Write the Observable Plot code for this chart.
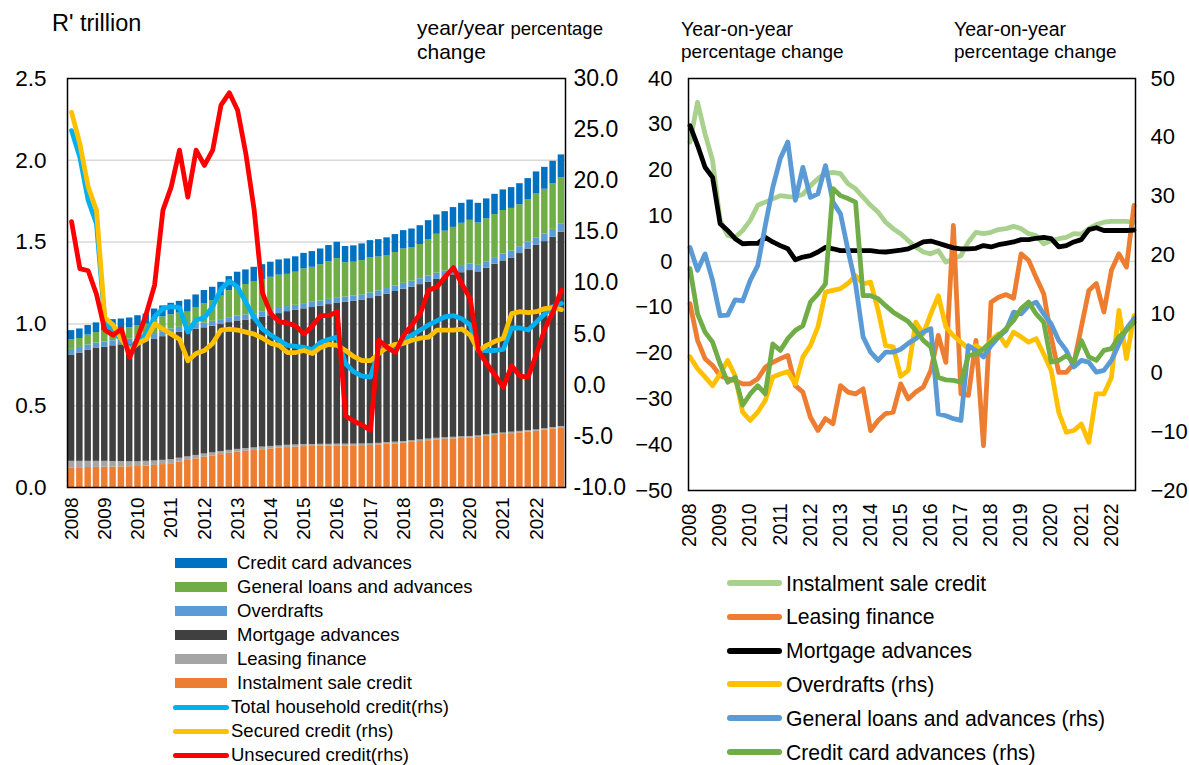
<!DOCTYPE html>
<html><head><meta charset="utf-8">
<script src="https://cdn.jsdelivr.net/npm/d3@7"></script>
<script src="https://cdn.jsdelivr.net/npm/@observablehq/plot@0.6"></script>
<style>
body{margin:0;background:#fff;font-family:"Liberation Sans",Arial,Helvetica,sans-serif;}
#root{position:relative;width:1189px;height:765px;overflow:hidden;background:#fff;}
.t{position:absolute;white-space:nowrap;color:#000;}
.sw{position:absolute;}
</style></head><body><div id="root"></div>
<script>
const FONT = '"Liberation Sans", Arial, Helvetica, sans-serif';
const years = ["2008","2009","2010","2011","2012","2013","2014","2015","2016","2017","2018","2019","2020","2021","2022"];
const quarters = years.flatMap(y => ["Q1","Q2","Q3","Q4"].map(q => y + q));
const yearTicks = quarters.filter(q => q.endsWith("Q1"));

// ---- Left panel: stacked bars, R' trillion ----
const instalmentSale = [0.120,0.121,0.122,0.123,0.124,0.125,0.126,0.127,0.128,0.131,0.135,0.140,0.145,0.155,0.165,0.175,0.185,0.193,0.201,0.209,0.216,0.221,0.226,0.231,0.236,0.240,0.244,0.247,0.250,0.251,0.252,0.253,0.254,0.254,0.255,0.256,0.257,0.260,0.264,0.267,0.271,0.276,0.281,0.286,0.291,0.294,0.297,0.300,0.303,0.306,0.313,0.319,0.324,0.329,0.334,0.339,0.344,0.351,0.358,0.365];
const leasingFinance = [0.040,0.039,0.038,0.037,0.036,0.034,0.033,0.031,0.030,0.029,0.027,0.026,0.025,0.024,0.022,0.021,0.020,0.019,0.019,0.018,0.017,0.017,0.016,0.016,0.015,0.014,0.014,0.013,0.013,0.012,0.012,0.011,0.011,0.011,0.010,0.010,0.010,0.010,0.010,0.010,0.010,0.010,0.010,0.010,0.010,0.010,0.010,0.010,0.009,0.009,0.009,0.009,0.009,0.009,0.009,0.009,0.008,0.008,0.008,0.008];
const mortgageAdvances = [0.650,0.662,0.678,0.690,0.697,0.707,0.713,0.719,0.724,0.732,0.743,0.756,0.769,0.770,0.772,0.772,0.771,0.774,0.776,0.781,0.785,0.786,0.788,0.793,0.799,0.809,0.817,0.823,0.829,0.837,0.844,0.854,0.863,0.867,0.873,0.880,0.888,0.898,0.908,0.921,0.931,0.939,0.949,0.960,0.971,0.981,0.993,1.003,1.014,1.003,1.018,1.037,1.052,1.065,1.087,1.110,1.128,1.144,1.164,1.187];
const overdrafts = [0.034,0.034,0.033,0.033,0.032,0.031,0.031,0.030,0.030,0.030,0.030,0.030,0.030,0.030,0.030,0.030,0.030,0.030,0.030,0.030,0.031,0.031,0.031,0.031,0.031,0.031,0.031,0.031,0.032,0.032,0.032,0.032,0.032,0.032,0.032,0.032,0.034,0.034,0.034,0.034,0.036,0.036,0.036,0.036,0.038,0.038,0.038,0.038,0.040,0.040,0.040,0.040,0.042,0.042,0.042,0.042,0.044,0.046,0.048,0.049];
const generalLoans = [0.058,0.055,0.061,0.064,0.068,0.070,0.067,0.069,0.078,0.076,0.091,0.091,0.087,0.087,0.083,0.102,0.118,0.126,0.144,0.165,0.179,0.186,0.195,0.200,0.204,0.204,0.197,0.202,0.212,0.214,0.221,0.231,0.239,0.210,0.207,0.209,0.215,0.207,0.202,0.204,0.210,0.206,0.209,0.223,0.238,0.244,0.252,0.264,0.267,0.259,0.262,0.263,0.266,0.261,0.256,0.258,0.273,0.274,0.279,0.284];
const creditCard = [0.057,0.058,0.058,0.059,0.059,0.059,0.060,0.060,0.060,0.062,0.065,0.067,0.070,0.072,0.075,0.077,0.080,0.082,0.084,0.086,0.088,0.089,0.090,0.091,0.092,0.093,0.094,0.094,0.095,0.096,0.097,0.098,0.100,0.099,0.100,0.102,0.105,0.106,0.108,0.110,0.112,0.113,0.115,0.116,0.118,0.119,0.121,0.122,0.124,0.120,0.122,0.124,0.126,0.127,0.129,0.130,0.132,0.134,0.137,0.140];
// rhs, year/year %
const totalHousehold = [24.9,22.3,18.1,15.8,6.3,5.0,4.6,3.6,4.4,5.0,6.7,7.5,7.7,7.6,5.2,6.4,6.6,7.7,9.4,10.2,9.6,8.1,6.6,5.5,4.9,4.4,3.9,3.8,3.7,3.5,4.2,4.5,4.7,2.1,1.3,0.9,0.8,3.4,3.7,3.4,4.4,4.9,5.4,5.9,6.3,6.7,6.8,6.5,5.9,3.4,3.4,3.4,3.5,5.6,5.6,5.4,6.2,7.0,7.7,8.0];
const securedCredit = [26.7,23.6,19.4,17.1,6.6,5.9,4.5,3.4,4.1,4.5,6.0,5.5,5.0,4.5,2.4,3.1,3.4,4.1,5.4,5.5,5.4,5.2,5.0,4.6,4.1,3.9,3.2,3.2,3.4,3.1,3.7,4.0,3.9,3.4,2.8,2.4,2.4,3.1,3.7,4.0,4.1,4.4,4.6,4.7,5.4,5.4,5.4,5.5,4.9,3.4,3.9,4.3,4.6,7.0,7.2,7.1,7.2,7.5,7.6,7.4];
const unsecuredCredit = [16.0,11.4,11.2,8.9,5.4,4.9,5.5,2.7,4.7,7.0,9.8,17.1,19.4,23.0,18.4,23.0,21.5,23.0,27.4,28.6,26.9,22.6,17.1,9.0,7.0,6.2,6.1,5.8,5.0,5.8,6.8,6.8,7.2,-3.0,-3.5,-3.9,-4.4,4.4,3.7,3.2,4.9,5.9,7.0,9.3,9.6,10.6,11.5,9.9,8.5,3.4,2.1,1.0,-0.2,1.9,0.9,0.8,3.1,5.5,7.2,9.3];

// ---- Right panel: year-on-year % ----
const instalmentGrowth = [26.1,34.8,27.9,22.1,9.0,5.7,5.3,6.8,9.0,12.3,13.0,13.7,14.4,14.2,14.1,14.7,16.6,18.1,19.3,19.5,19.2,17.0,15.9,14.1,12.3,10.8,8.6,7.2,6.1,4.6,3.2,2.1,1.7,2.4,-0.1,0.6,1.3,4.3,6.4,6.1,6.4,7.0,7.2,7.7,7.2,6.1,5.7,3.9,4.6,5.0,5.3,6.1,6.0,7.2,8.1,8.6,8.8,8.8,8.8,8.6];
const leasingGrowth = [-9.2,-17.2,-21.2,-22.7,-24.9,-25.6,-26.0,-26.7,-26.7,-25.6,-23.1,-22.0,-21.2,-20.5,-27.1,-28.5,-34.0,-36.9,-34.3,-35.4,-27.1,-28.5,-28.9,-27.8,-36.9,-34.7,-33.2,-32.9,-26.7,-30.0,-28.5,-27.4,-23.8,-16.1,-22.0,7.9,-28.9,-29.2,-17.2,-40.2,-8.9,-7.8,-7.2,-8.0,1.7,0.3,-3.5,-7.0,-16.5,-24.2,-24.2,-22.3,-14.3,-6.3,-4.8,-11.0,-1.9,1.7,-1.2,12.3];
const mortgageGrowth = [29.7,25.4,20.6,18.4,8.3,6.8,5.0,3.9,4.0,4.0,5.3,4.3,3.5,2.8,0.4,1.0,1.3,2.1,3.1,2.8,2.4,2.4,2.4,2.4,2.4,2.2,2.1,2.3,2.5,2.8,3.5,4.3,4.5,4.0,3.5,3.0,2.8,2.8,2.9,3.5,3.2,3.7,4.0,4.3,4.8,4.8,5.1,5.3,5.0,3.2,3.5,4.3,4.8,7.0,7.4,6.8,6.8,6.8,6.8,6.9];
const overdraftGrowth = [2.7,0.7,-0.7,-2.2,-0.2,2.1,-0.5,-6.7,-8.1,-6.7,-4.7,-0.7,-0.2,0.2,-1.9,2.7,4.6,7.8,13.7,14.0,14.3,15.2,16.5,15.1,15.4,10.6,4.6,4.4,-0.6,0.4,8.6,6.6,10.0,13.1,7.8,6.3,5.2,4.1,4.6,3.8,5.5,6.6,4.6,6.9,6.1,5.2,5.8,3.2,0.4,-6.7,-10.1,-9.8,-8.7,-11.8,-3.6,-3.6,-0.8,10.6,2.4,9.7];
const generalGrowth = [21.3,17.4,20.2,15.7,9.7,9.8,12.4,12.2,15.7,18.2,25.0,31.5,36.4,39.2,29.3,34.9,29.8,30.4,35.2,29.0,27.0,20.8,15.1,6.1,3.5,2.1,3.5,3.5,4.0,5.0,5.8,6.9,7.5,-7.0,-7.3,-7.8,-8.1,4.6,3.8,2.7,4.6,6.1,7.2,10.3,10.0,11.4,12.0,10.0,8.3,5.5,3.8,1.0,2.1,1.8,0.1,0.4,2.1,4.9,7.5,9.2];
const cardGrowth = [17.7,10.0,6.9,5.2,1.5,-1.6,-0.8,-5.5,-3.6,-2.2,-3.6,4.9,3.8,5.8,7.2,8.0,12.0,13.4,15.1,31.3,30.1,29.6,29.0,13.1,13.1,12.6,11.4,10.3,9.5,8.7,7.2,5.5,4.4,-0.8,-1.2,-1.3,-1.6,2.9,3.2,4.1,5.2,6.3,7.5,8.9,10.9,12.0,10.0,8.6,1.8,2.1,2.9,1.8,5.5,2.7,2.1,3.8,4.1,6.1,7.2,8.6];

const leftTicks = [0, 0.5, 1.0, 1.5, 2.0, 2.5];
const leftRhsTicks = [-10, -5, 0, 5, 10, 15, 20, 25, 30];
const rightTicks = [-50, -40, -30, -20, -10, 0, 10, 20, 30, 40];
const rightRhsTicks = [-20, -10, 0, 10, 20, 30, 40, 50];

const barSeries = ["Instalment sale credit","Leasing finance","Mortgage advances","Overdrafts","General loans and advances","Credit card advances"];
const barColors = ["#ED7D31","#A5A5A5","#404040","#5B9BD5","#70AD47","#0070C0"];
const barValues = [instalmentSale, leasingFinance, mortgageAdvances, overdrafts, generalLoans, creditCard];
const barRows = barSeries.flatMap((s, k) => quarters.map((q, i) => ({q, s, v: barValues[k][i]})));
const rows = arr => quarters.map((q, i) => ({q, v: arr[i]}));

const root = document.getElementById("root");
function place(el, left, top) {
  el.style.position = "absolute"; el.style.left = left + "px"; el.style.top = top + "px";
  root.appendChild(el);
}
const baseStyle = {fontFamily: FONT, fontSize: "20px", background: "transparent", color: "#000", overflow: "visible"};

// Left panel geometry
const L = {width: 640, height: 565, marginLeft: 67, marginRight: 75, marginTop: 78, marginBottom: 78};
const xBand = {type: "band", domain: quarters, paddingInner: 0.22, paddingOuter: 0.1, round: false, label: null};

const leftBase = Plot.plot({
  ...L, style: baseStyle,
  x: xBand,
  y: {domain: [0, 2.5], label: null},
  color: {domain: barSeries, range: barColors},
  marks: [
    Plot.gridY([0.5, 1.0, 1.5, 2.0], {stroke: "#D9D9D9", strokeOpacity: 1, strokeWidth: 1.5}),
    Plot.barY(barRows, Plot.stackY({x: "q", y: "v", z: "s", fill: "s", order: barSeries})),
    Plot.axisY(leftTicks, {tickSize: 0, tickPadding: 21, tickFormat: d => d.toFixed(1), fontSize: 22.5, label: null}),
    Plot.axisX(yearTicks, {tickSize: 0, tickPadding: 10, tickRotate: -90, tickFormat: q => q.slice(0, 4), fontSize: 19, label: null})
  ]
});
place(leftBase, 0, 0);

const leftOver = Plot.plot({
  ...L, style: baseStyle,
  x: {...xBand, axis: null},
  y: {domain: [-10, 30], label: null},
  marks: [
    Plot.line(rows(totalHousehold), {x: "q", y: "v", stroke: "#00B0F0", strokeWidth: 4.8, strokeLinejoin: "round"}),
    Plot.line(rows(securedCredit), {x: "q", y: "v", stroke: "#FFC000", strokeWidth: 4.8, strokeLinejoin: "round"}),
    Plot.line(rows(unsecuredCredit), {x: "q", y: "v", stroke: "#FF0000", strokeWidth: 4.8, strokeLinejoin: "round"}),
    Plot.axisY(leftRhsTicks, {anchor: "right", tickSize: 0, tickPadding: 8, tickFormat: d => d.toFixed(1), fontSize: 23, label: null}),
    Plot.frame({stroke: "#000", strokeWidth: 1.5})
  ]
});
place(leftOver, 0, 0);

// Right panel geometry
const R = {width: 589, height: 565, marginLeft: 88, marginRight: 54, marginTop: 78, marginBottom: 75};
const xPoint = {type: "point", domain: quarters, padding: 0.2, round: false, label: null};

const rightBase = Plot.plot({
  ...R, style: baseStyle,
  x: xPoint,
  y: {domain: [-50, 40], label: null},
  marks: [
    Plot.ruleY([0], {stroke: "#D9D9D9", strokeWidth: 1.5}),
    Plot.line(rows(instalmentGrowth), {x: "q", y: "v", stroke: "#A9D18E", strokeWidth: 4.8, strokeLinejoin: "round"}),
    Plot.line(rows(leasingGrowth), {x: "q", y: "v", stroke: "#ED7D31", strokeWidth: 4.8, strokeLinejoin: "round"}),
    Plot.line(rows(mortgageGrowth), {x: "q", y: "v", stroke: "#000000", strokeWidth: 4.8, strokeLinejoin: "round"}),
    Plot.axisY(rightTicks, {tickSize: 0, tickPadding: 16, fontSize: 22, label: null}),
    Plot.axisX(yearTicks, {tickSize: 0, tickPadding: 13, tickRotate: -90, tickFormat: q => q.slice(0, 4), fontSize: 19.5, label: null})
  ]
});
place(rightBase, 600, 0);

const rightOver = Plot.plot({
  ...R, style: baseStyle,
  x: {...xPoint, axis: null},
  y: {domain: [-20, 50], label: null},
  marks: [
    Plot.line(rows(overdraftGrowth), {x: "q", y: "v", stroke: "#FFC000", strokeWidth: 4.8, strokeLinejoin: "round"}),
    Plot.line(rows(generalGrowth), {x: "q", y: "v", stroke: "#5B9BD5", strokeWidth: 4.8, strokeLinejoin: "round"}),
    Plot.line(rows(cardGrowth), {x: "q", y: "v", stroke: "#70AD47", strokeWidth: 4.8, strokeLinejoin: "round"}),
    Plot.axisY(rightRhsTicks, {anchor: "right", tickSize: 0, tickPadding: 15, fontSize: 22, label: null}),
    Plot.frame({stroke: "#000", strokeWidth: 1.5})
  ]
});
place(rightOver, 600, 0);

// Texts
function text(str, left, baseline, size, extra) {
  const d = document.createElement("div");
  d.className = "t";
  d.style.fontSize = size + "px";
  d.style.lineHeight = size + "px";
  d.style.left = left + "px";
  d.style.top = (baseline - 0.8465 * size) + "px";
  d.innerHTML = str;
  if (extra) Object.assign(d.style, extra);
  root.appendChild(d);
  return d;
}
text("R' trillion", 52, 32, 23.5);
text('year/year <span style="font-size:18.5px">percentage</span>', 417, 35, 21);
text("change", 417, 59, 21);
text("Year-on-year", 681, 37, 19.5);
text("percentage change", 681, 58, 19);
text("Year-on-year", 954, 37, 19.5);
text("percentage change", 954, 58, 19);

// Left legend
const leftLegend = [
  ["Credit card advances", "#0070C0", "bar"],
  ["General loans and advances", "#70AD47", "bar"],
  ["Overdrafts", "#5B9BD5", "bar"],
  ["Mortgage advances", "#404040", "bar"],
  ["Leasing finance", "#A5A5A5", "bar"],
  ["Instalment sale credit", "#ED7D31", "bar"],
  ["Total household credit(rhs)", "#00B0F0", "line"],
  ["Secured credit (rhs)", "#FFC000", "line"],
  ["Unsecured credit(rhs)", "#FF0000", "line"]
];
function swatch(left, top, w, h, color, radius) {
  const s = document.createElement("div");
  s.className = "sw";
  Object.assign(s.style, {left: left + "px", top: top + "px", width: w + "px", height: h + "px", background: color, borderRadius: radius + "px"});
  root.appendChild(s);
}
leftLegend.forEach(([label, color, kind], k) => {
  const cy = 563 + 24 * k;
  if (kind === "bar") { swatch(175, cy - 5, 52, 10, color, 0); text(label, 237, cy + 6.5, 18.5); }
  else { swatch(173, cy - 2.5, 56, 5, color, 2.5); text(label, 231, cy + 6.5, 18.5); }
});
// Right legend
const rightLegend = [
  ["Instalment sale credit", "#A9D18E"],
  ["Leasing finance", "#ED7D31"],
  ["Mortgage advances", "#000000"],
  ["Overdrafts (rhs)", "#FFC000"],
  ["General loans and advances (rhs)", "#5B9BD5"],
  ["Credit card advances (rhs)", "#70AD47"]
];
rightLegend.forEach(([label, color], k) => {
  const cy = 583 + 33.8 * k;
  swatch(727, cy - 3, 55, 6, color, 3);
  text(label, 786, cy + 7.5, 21.2);
});
</script></body></html>
